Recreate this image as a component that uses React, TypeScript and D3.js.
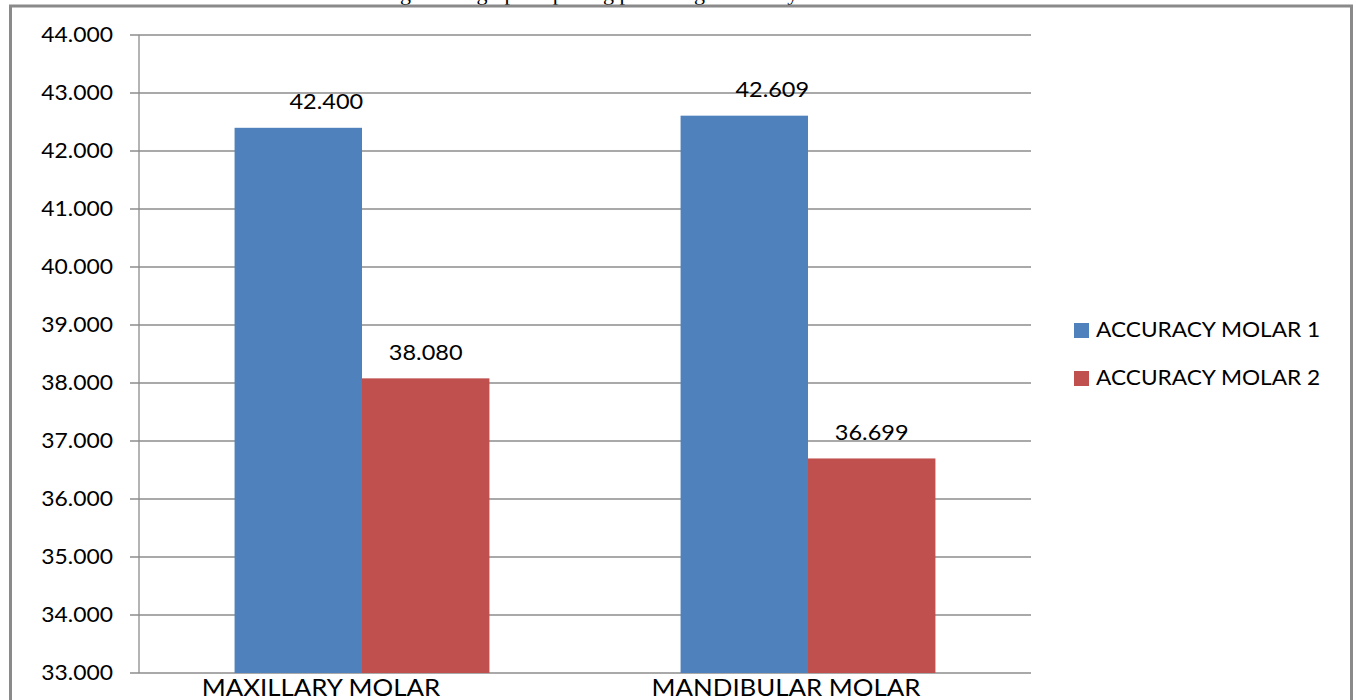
import React from "react";
import * as d3 from "d3";

const categories = ["MAXILLARY MOLAR", "MANDIBULAR MOLAR"];
const seriesNames = ["ACCURACY MOLAR 1", "ACCURACY MOLAR 2"];
const molar1 = [42.4, 42.609];
const molar2 = [38.08, 36.699];
const yTicks = [33, 34, 35, 36, 37, 38, 39, 40, 41, 42, 43, 44];
const colors = ["#4F81BD", "#C0504D"];

const W = 1356;
const H = 700;
const FONT = "Lato, 'Open Sans', sans-serif";
const catLabelShift = [-41, -22];

function SText(props: {
  x: number;
  y: number;
  sx: number;
  size: number;
  anchor?: string;
  children: React.ReactNode;
}) {
  const { x, y, sx, size, anchor = "start", children } = props;
  return (
    <g transform={`translate(${x},${y}) scale(${sx},1)`}>
      <text x={0} y={0} dy="0.35em" textAnchor={anchor} fontFamily={FONT} fontSize={size} fill="#000">
        {children}
      </text>
    </g>
  );
}

export default function App() {
  const plotL = 139, plotR = 1031, plotT = 35, plotB = 673;
  const y = d3.scaleLinear().domain([33, 44]).range([plotB, plotT]);
  const x0 = d3.scaleBand<string>().domain(categories).range([plotL, plotR]).paddingInner(0).paddingOuter(0);
  const inner = d3.scaleBand<string>().domain(seriesNames).range([0, x0.bandwidth()]).paddingInner(0).paddingOuter(0.75);
  const series = [molar1, molar2];
  const fmt = d3.format(".3f");

  return (
    <svg width={W} height={H} style={{ position: "absolute", left: 0, top: 0, background: "#fff" }}>
      <text x={590} y={0} textAnchor="middle" fontFamily="'Liberation Serif', 'Times New Roman', serif" fontSize={22} fill="#000">
        Fig 1: Bar graph depicting percentage accuracy
      </text>
      {/* outer frame */}
      <path d={`M10.5,${H} V6 H1351.5 V${H}`} fill="none" stroke="#8a8a8a" strokeWidth={3} />
      {/* gridlines */}
      {yTicks.map((t) => (
        <g key={t}>
          <line x1={130} x2={plotR} y1={y(t)} y2={y(t)} stroke="#8c8c8c" strokeWidth={1.3} />
          <SText x={113} y={y(t)} sx={1.09} size={21} anchor="end">
            {fmt(t)}
          </SText>
        </g>
      ))}
      <line x1={plotL} x2={plotL} y1={plotT} y2={plotB} stroke="#8c8c8c" strokeWidth={1.3} />
      {/* bars */}
      {categories.map((c, ci) => (
        <g key={c}>
          {series.map((vals, si) => {
            const bx = (x0(c) as number) + (inner(seriesNames[si]) as number);
            const bw = inner.bandwidth();
            const v = vals[ci];
            const labelOffset = si === 0 ? 28 : 0;
            return (
              <g key={si}>
                <rect x={bx} y={y(v)} width={bw} height={plotB - y(v)} fill={colors[si]} />
                <SText x={bx + bw / 2 + labelOffset} y={y(v) - 26} sx={1.12} size={21} anchor="middle">
                  {fmt(v)}
                </SText>
              </g>
            );
          })}
          <SText x={(x0(c) as number) + x0.bandwidth() / 2 + catLabelShift[ci]} y={688} sx={1.1} size={23.5} anchor="middle">
            {c}
          </SText>
        </g>
      ))}
      {/* legend */}
      {seriesNames.map((s, i) => (
        <g key={s}>
          <rect x={1074} y={330 + i * 48 - 7} width={15} height={15} fill={colors[i]} />
          <SText x={1096} y={330 + i * 48} sx={1.08} size={21}>
            {s}
          </SText>
        </g>
      ))}
    </svg>
  );
}
